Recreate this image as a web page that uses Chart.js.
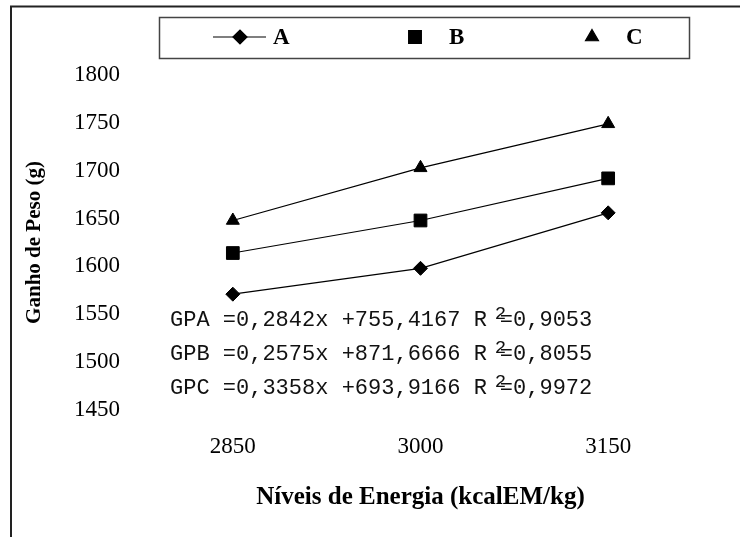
<!DOCTYPE html>
<html>
<head>
<meta charset="utf-8">
<script src="https://cdn.jsdelivr.net/npm/chart.js@4/dist/chart.umd.min.js"></script>
<style>
  body { margin: 0; background: #fff; }
  canvas { display: block; }
</style>
</head>
<body>
<canvas id="grafico" width="740" height="537"></canvas>
<script>
const energia = ['2850', '3000', '3150']
const ganhoA = [1571, 1598, 1656]
const ganhoB = [1614, 1648, 1692]
const ganhoC = [1648, 1703, 1749]
const yMin = 1450
const yMax = 1800
const yStep = 50

const legendaNomes = ['A', 'B', 'C']
const legendaSimbolos = ['rectRot', 'rect', 'triangle']
const equacoes = [
  ['GPA =0,2842x +755,4167 R', '=0,9053'],
  ['GPB =0,2575x +871,6666 R', '=0,8055'],
  ['GPC =0,3358x +693,9166 R', '=0,9972']
]

const serif = 'Liberation Serif, Times New Roman, serif'
const mono = 'Liberation Mono, Courier New, monospace'

// moldura, legenda e equacoes
const extras = {
  id: 'extras',
  afterDraw: chart => {
    const ctx = chart.ctx
    ctx.save()

    ctx.strokeStyle = '#222'
    ctx.lineWidth = 2
    ctx.beginPath()
    ctx.moveTo(11, 537)
    ctx.lineTo(11, 6.5)
    ctx.lineTo(740, 6.5)
    ctx.stroke()

    ctx.strokeStyle = '#444'
    ctx.lineWidth = 1.5
    ctx.strokeRect(159.5, 17.5, 530, 41)

    const posSimbolo = [240, 415, 592]
    const posTexto = [273, 449, 626]
    const raios = [7, 9, 7.5]
    ctx.fillStyle = '#000'
    ctx.strokeStyle = '#000'
    ctx.lineWidth = 1.2
    ctx.beginPath()
    ctx.moveTo(213, 37)
    ctx.lineTo(266, 37)
    ctx.stroke()
    legendaNomes.forEach((nome, i) => {
      Chart.helpers.drawPoint(ctx, { pointStyle: legendaSimbolos[i], radius: raios[i], borderWidth: 1 }, posSimbolo[i], 37)
      ctx.font = 'bold 23px ' + serif
      ctx.textBaseline = 'middle'
      ctx.textAlign = 'left'
      ctx.fillText(nome, posTexto[i], 38)
    })

    ctx.fillStyle = '#111'
    equacoes.forEach((linha, i) => {
      const y = 320 + i * 34
      ctx.font = '22px ' + mono
      ctx.textBaseline = 'middle'
      ctx.fillText(linha[0], 170, y)
      const w = ctx.measureText(linha[0]).width
      ctx.font = '19px ' + mono
      ctx.fillText('2', 170 + w + 8, y - 6)
      ctx.font = '22px ' + mono
      ctx.fillText(linha[1], 170 + w + 13, y)
    })

    ctx.restore()
  }
}

const serie = (dados, simbolo, raio) => ({
  data: dados,
  borderColor: '#000',
  backgroundColor: '#000',
  borderWidth: 1.2,
  pointStyle: simbolo,
  pointRadius: raio,
  pointBorderWidth: 1,
  fill: false,
  tension: 0
})

const ctx = document.getElementById('grafico').getContext('2d')
new Chart(ctx, {
  type: 'line',
  data: {
    labels: energia,
    datasets: [
      serie(ganhoA, 'rectRot', 7),
      serie(ganhoB, 'rect', 9),
      serie(ganhoC, 'triangle', 7.5)
    ]
  },
  options: {
    responsive: false,
    animation: false,
    layout: { padding: { top: 75, right: 38, left: 0, bottom: 0 } },
    plugins: {
      legend: { display: false },
      tooltip: { enabled: false }
    },
    scales: {
      x: {
        offset: true,
        grid: { display: false, drawTicks: false },
        border: { display: false },
        ticks: { color: '#000', padding: 23, font: { family: serif, size: 23 } },
        title: {
          display: true,
          text: 'Níveis de Energia (kcalEM/kg)',
          color: '#000',
          font: { family: serif, size: 25, weight: 'bold' },
          padding: { top: 0, bottom: 24 }
        },
        afterFit: scale => { scale.height = 127 }
      },
      y: {
        min: yMin,
        max: yMax,
        grid: { display: false, drawTicks: false },
        border: { display: false },
        ticks: {
          stepSize: yStep,
          color: '#000',
          padding: 19,
          font: { family: serif, size: 23 },
          callback: value => String(value)
        },
        title: {
          display: true,
          text: 'Ganho de Peso (g)',
          color: '#000',
          font: { family: serif, size: 21, weight: 'bold' },
          padding: { top: 22, bottom: 0 }
        },
        afterFit: scale => { scale.width = 139 }
      }
    }
  },
  plugins: [extras]
})
</script>
</body>
</html>
